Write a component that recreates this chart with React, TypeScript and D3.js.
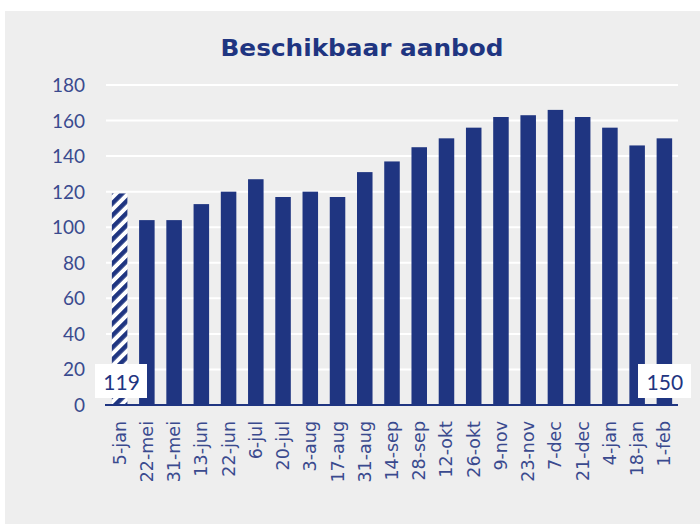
import React from "react";
import * as d3 from "d3";

const categories = ["5-jan","22-mei","31-mei","13-jun","22-jun","6-jul","20-jul","3-aug","17-aug","31-aug","14-sep","28-sep","12-okt","26-okt","9-nov","23-nov","7-dec","21-dec","4-jan","18-jan","1-feb"];
const values = [119,104,104,113,120,127,117,120,117,131,137,145,150,156,162,163,166,162,156,146,150];
const hatched = [true,false,false,false,false,false,false,false,false,false,false,false,false,false,false,false,false,false,false,false,false];
const yTicks = [0,20,40,60,80,100,120,140,160,180];
const title = "Beschikbaar aanbod";
const labelFirst = "119";
const labelLast = "150";

const W = 700, H = 524;
const NAVY = "#1f3581";
const TXT = "#3a4a8e";

export default function App() {
  const x = d3.scaleBand<string>().domain(categories).range([106, 678]).paddingInner(0.43).paddingOuter(0.215);
  const y = d3.scaleLinear().domain([0, 180]).range([405, 85]);
  const bw = x.bandwidth();
  const font = "Lato, 'DejaVu Sans', sans-serif";
  const firstX = (x(categories[0]) as number) + bw / 2;
  const lastX = (x(categories[categories.length - 1]) as number) + bw / 2;
  return (
    <svg width={W} height={H} style={{ position: "absolute", left: 0, top: 0 }}>
      <defs>
        <pattern id="hatch" patternUnits="userSpaceOnUse" width="8.5" height="8.5" patternTransform="rotate(45)">
          <rect width="8.5" height="8.5" fill="#ffffff" />
          <rect x="0" y="0" width="4.5" height="8.5" fill={NAVY} />
        </pattern>
      </defs>
      <rect x={0} y={0} width={W} height={H} fill="#ffffff" />
      <rect x={5} y={11} width={W - 5} height={H - 11} fill="#eeeeee" />
      <text x={362} y={56} textAnchor="middle" fontFamily="'DejaVu Sans', sans-serif" fontWeight="bold" fontSize={23} fill={NAVY} textLength={283} lengthAdjust="spacingAndGlyphs">{title}</text>
      {yTicks.filter(t => t > 0).map(t => (
        <line key={"g" + t} x1={106} x2={678} y1={y(t)} y2={y(t)} stroke="#ffffff" strokeWidth={2} />
      ))}
      {yTicks.map(t => (
        <text key={"t" + t} x={85} y={y(t) + 7} textAnchor="end" fontFamily={font} fontSize={19} fill={TXT}>{t}</text>
      ))}
      {categories.map((c, i) => (
        <rect key={c} x={x(c)} y={y(values[i])} width={bw} height={y(0) - y(values[i])} fill={hatched[i] ? "url(#hatch)" : NAVY} />
      ))}
      <line x1={105} x2={678} y1={y(0)} y2={y(0)} stroke={NAVY} strokeWidth={2} />
      {categories.map(c => {
        const cx = (x(c) as number) + bw / 2;
        return (
          <text key={"l" + c} transform={`translate(${cx + 6},421) rotate(-90)`} textAnchor="end" fontFamily="'DejaVu Sans', sans-serif" fontSize={17.5} fill={TXT}>{c}</text>
        );
      })}
      <rect x={95} y={364} width={52} height={34} fill="#ffffff" />
      <text x={firstX + 2} y={390} textAnchor="middle" fontFamily={font} fontSize={21} fill={NAVY}>{labelFirst}</text>
      <rect x={638} y={364} width={53} height={34} fill="#ffffff" />
      <text x={lastX + 0.5} y={390} textAnchor="middle" fontFamily={font} fontSize={21} fill={NAVY}>{labelLast}</text>
    </svg>
  );
}
